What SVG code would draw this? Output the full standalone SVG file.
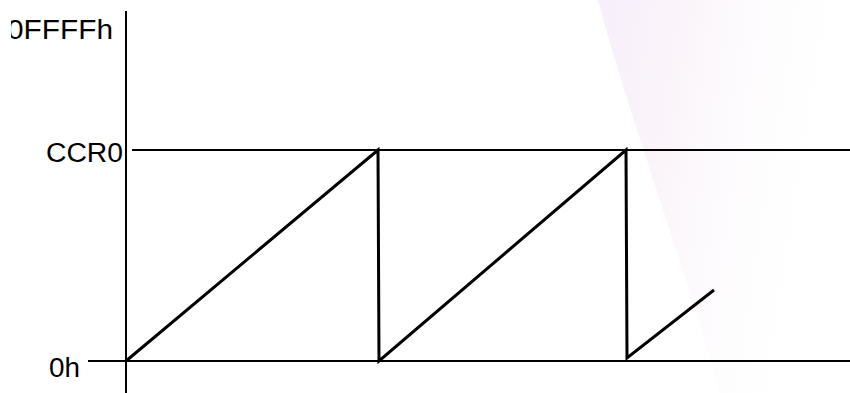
<svg xmlns="http://www.w3.org/2000/svg" width="850" height="393" viewBox="0 0 850 393">
  <defs>
    <linearGradient id="swoosh" x1="0" y1="0" x2="1" y2="0.25">
      <stop offset="0" stop-color="#f5ebfa" stop-opacity="0.85"/>
      <stop offset="0.35" stop-color="#f9f1f8" stop-opacity="0.7"/>
      <stop offset="1" stop-color="#ffffff" stop-opacity="0"/>
    </linearGradient>
    <clipPath id="clipText"><rect x="11" y="0" width="200" height="60"/></clipPath>
    <style>
      .lbl { font-family: "Liberation Sans", Arial, sans-serif; font-size: 27px; fill: #000; }
      .axis { stroke: #000; stroke-width: 2; fill: none; }
      .saw { stroke: #000; stroke-width: 3; fill: none; stroke-linejoin: miter; }
    </style>
  </defs>
  <rect width="850" height="393" fill="#ffffff"/>
  <g id="background">
    <path d="M598,0 C630,120 680,250 720,393 L850,393 L850,0 Z" fill="url(#swoosh)"/>
  </g>
  <g id="connectors">
    <line class="axis" x1="126" y1="11" x2="126" y2="393"/>
    <line class="axis" x1="132" y1="150" x2="850" y2="150"/>
    <line class="axis" x1="88" y1="361" x2="850" y2="361"/>
    <polyline class="saw" points="126,361 378,150 379,361 626,150 627,358 714,290"/>
  </g>
  <g id="label-ffff" clip-path="url(#clipText)">
    <text class="lbl" x="7" y="39" textLength="106" lengthAdjust="spacingAndGlyphs">0FFFFh</text>
  </g>
  <g id="label-ccr0">
    <text class="lbl" x="46" y="162" textLength="77" lengthAdjust="spacingAndGlyphs">CCR0</text>
  </g>
  <g id="label-0h">
    <text class="lbl" x="49" y="377" textLength="31" lengthAdjust="spacingAndGlyphs">0h</text>
  </g>
</svg>
